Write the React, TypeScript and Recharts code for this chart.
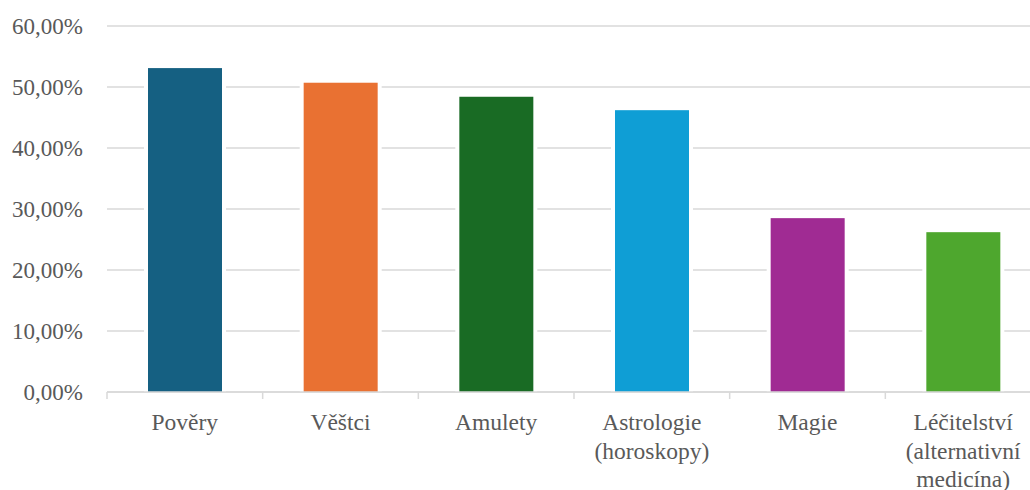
import React from "react";
import { BarChart, Bar, XAxis, YAxis, CartesianGrid, Cell } from "recharts";

const categories = ["Pověry", "Věštci", "Amulety", "Astrologie (horoskopy)", "Magie", "Léčitelství (alternativní medicína)"];
const labelLines = [["Pověry"], ["Věštci"], ["Amulety"], ["Astrologie", "(horoskopy)"], ["Magie"], ["Léčitelství", "(alternativní", "medicína)"]];
const values = [0.531, 0.507, 0.484, 0.462, 0.285, 0.262];
const colors = ["#156082", "#E97132", "#196B24", "#0F9ED5", "#A02B93", "#4EA72E"];
const yTicks = [0, 0.1, 0.2, 0.3, 0.4, 0.5, 0.6];

const data = categories.map((c, i) => ({ name: c, value: values[i], idx: i }));

const W = 1060;
const H = 490;
const LEFT = 107;
const RIGHT_MARGIN = 19;
const TOP = 26;
const XH = 98;
const BAND = (W - LEFT - RIGHT_MARGIN) / categories.length;
const FONT = "Liberation Serif, Tinos, Times New Roman, serif";
const TEXT = "#595959";
const GRID = "#D9D9D9";

const fmt = (v: number) => (v * 100).toFixed(2).replace(".", ",") + "%";

const XTick = (props: any) => {
  const { x, y, payload } = props;
  const lines = labelLines[payload.index] || [String(payload.value)];
  return (
    <g>
      <line x1={x - BAND / 2} x2={x - BAND / 2} y1={y} y2={y + 7} stroke={GRID} strokeWidth={1.5} />
      <text x={x} y={y + 30} textAnchor="middle" dominantBaseline="central" fill={TEXT} style={{ fontFamily: FONT, fontSize: 23.5 }}>
        {lines.map((l: string, i: number) => (
          <tspan key={i} x={x} dy={i === 0 ? 0 : 28.5}>{l}</tspan>
        ))}
      </text>
    </g>
  );
};

const YTick = (props: any) => {
  const { x, y, payload } = props;
  return (
    <text x={x} y={y} textAnchor="end" dominantBaseline="central" fill={TEXT} style={{ fontFamily: FONT, fontSize: 23 }}>
      {fmt(payload.value)}
    </text>
  );
};

const BarShape = (props: any) => {
  const { x, y, width, height, fill } = props;
  return (
    <g>
      <rect x={x - 4} y={y - 4} width={width + 8} height={height + 4} fill="#ffffff" />
      <rect x={x} y={y} width={width} height={height} fill={fill} />
    </g>
  );
};

export default function App() {
  return (
    <div style={{ position: "fixed", left: 0, top: 0, width: 1030, height: 490, overflow: "hidden", background: "#fff", fontFamily: FONT }}>
      <BarChart width={W} height={H} data={data} margin={{ top: TOP, right: RIGHT_MARGIN, bottom: 0, left: 0 }} barSize={74}>
        <CartesianGrid vertical={false} stroke={GRID} strokeWidth={1.5} />
        <XAxis
          dataKey="name"
          height={XH}
          interval={0}
          axisLine={{ stroke: GRID, strokeWidth: 1.5 }}
          tickLine={false}
          tickSize={0}
          tickMargin={0}
          tick={<XTick />}
        />
        <YAxis
          width={LEFT}
          domain={[0, 0.6]}
          ticks={yTicks}
          axisLine={false}
          tickLine={false}
          tickSize={0}
          tickMargin={24}
          tick={<YTick />}
        />
        <Bar dataKey="value" isAnimationActive={false} shape={<BarShape />}>
          {data.map((d, i) => (
            <Cell key={i} fill={colors[i]} />
          ))}
        </Bar>
      </BarChart>
    </div>
  );
}
